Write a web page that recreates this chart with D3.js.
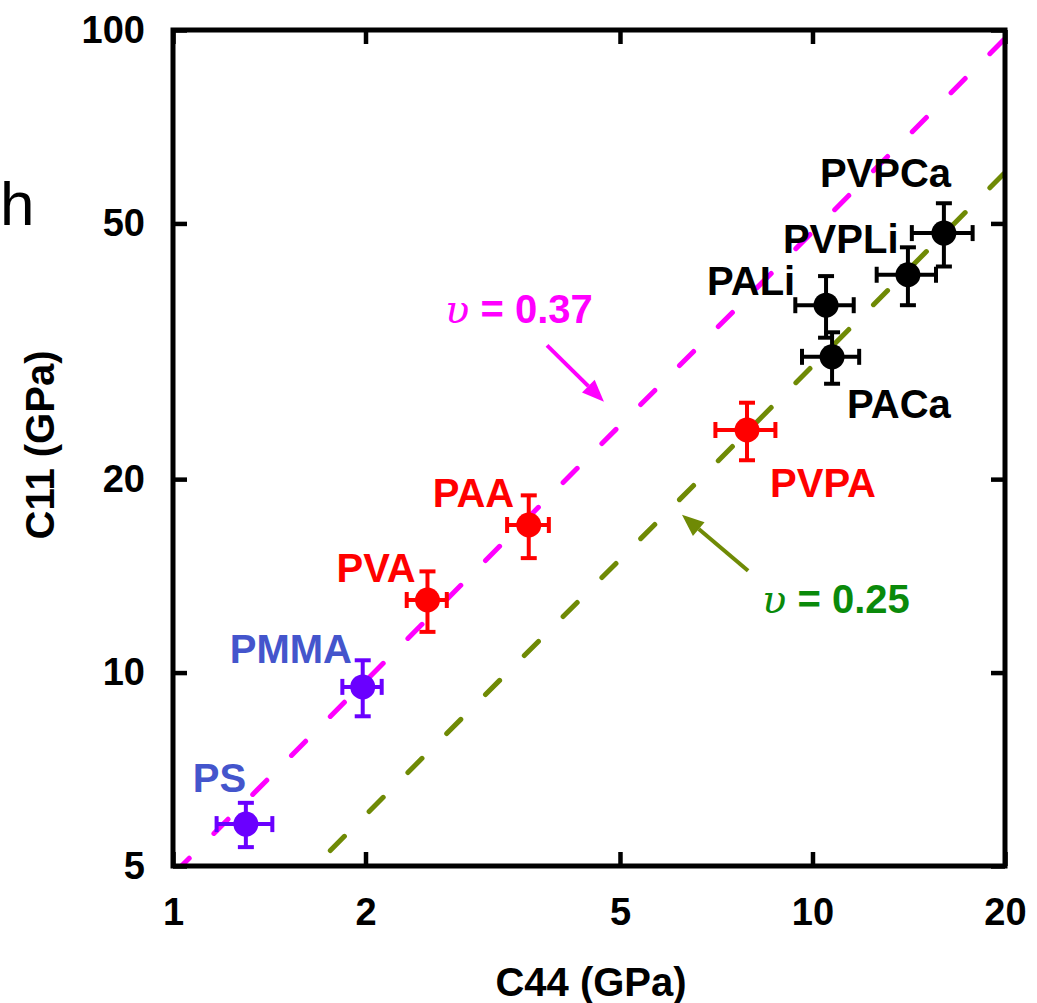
<!DOCTYPE html>
<html>
<head>
<meta charset="utf-8">
<script src="https://cdn.jsdelivr.net/npm/d3@7"></script>
<style>
  body { margin: 0; background: #fff; }
  text { font-family: "Liberation Sans", Arial, sans-serif; }
</style>
</head>
<body>
<div id="container"></div>
<script>
// values
const materials = ["PS", "PMMA", "PVA", "PAA", "PVPA", "PALi", "PACa", "PVPLi", "PVPCa"]
const c44 = [1.30, 1.98, 2.50, 3.60, 7.90, 10.50, 10.73, 14.1, 16.05]
const c44Err = [0.13, 0.14, 0.18, 0.27, 0.85, 1.1, 1.1, 1.5, 1.75]
const c11 = [5.81, 9.50, 12.97, 16.97, 23.85, 37.3, 31.0, 41.6, 48.3]
const c11Err = [0.46, 0.95, 1.4, 1.9, 2.45, 4.1, 2.85, 4.3, 5.45]
const groups = ["blue", "blue", "red", "red", "red", "black", "black", "black", "black"]

const xTicks = [1, 2, 5, 10, 20]
const yTicks = [5, 10, 20, 50, 100]

// C11/C44 ratio of the two reference lines
const nuLabels = ["0.37", "0.25"]
const nuRatios = [4.85, 3.0]

// annotation anchors in data units
const nuTextPos = [[2.663, 35.0], [8.34, 12.4]]
const arrowFrom = [[3.845, 32.3], [7.93, 14.4]]
const arrowTo = [[4.72, 26.4], [6.25, 17.6]]

// styling
const markerColor = { blue: "#6a00ff", red: "#ff0000", black: "#000000" }
const labelColor = { blue: "#4455cc", red: "#ff0000", black: "#000000" }
const lineColors = ["#ff00ff", "#6f8a05"]
const nuTextColors = ["#ff00ff", "#0a8a0a"]
const labelOffsets = {
    PS: [-53, -32], PMMA: [-133, -24], PVA: [-91, -18], PAA: [-96, -18],
    PVPA: [23, 67], PALi: [-119, -10], PACa: [15, 61], PVPLi: [-125, -22], PVPCa: [-124, -46]
}

const W = 1037, H = 1003
const margin = { top: 30, right: 32, bottom: 137, left: 173 }
const plotL = margin.left, plotR = W - margin.right
const plotT = margin.top, plotB = H - margin.bottom

const svg = d3.select("#container").append("svg").attr("width", W).attr("height", H)

const x = d3.scaleLog().domain([1, 20]).range([plotL, plotR])
const y = d3.scaleLog().domain([5, 100]).range([plotB, plotT])

svg.append("defs").append("clipPath").attr("id", "plot")
    .append("rect").attr("x", plotL).attr("y", plotT)
    .attr("width", plotR - plotL).attr("height", plotB - plotT)

// dashed reference lines
const line = d3.line().x(d => x(d[0])).y(d => y(d[1]))
nuRatios.forEach((r, i) => {
    svg.append("path")
        .attr("d", line([[1, r], [20, 20 * r]]))
        .attr("clip-path", "url(#plot)")
        .attr("fill", "none")
        .attr("stroke", lineColors[i])
        .attr("stroke-width", 5)
        .attr("stroke-linecap", "round")
        .attr("stroke-dasharray", "20,35")
        .attr("stroke-dashoffset", -3)
})

// arrows
const arrowHead = (g, x1, y1, x2, y2, color) => {
    const a = Math.atan2(y2 - y1, x2 - x1)
    const len = 22, hw = 9
    const bx = x2 - len * Math.cos(a), by = y2 - len * Math.sin(a)
    g.append("line").attr("x1", x1).attr("y1", y1).attr("x2", bx).attr("y2", by)
        .attr("stroke", color).attr("stroke-width", 4)
    g.append("path")
        .attr("d", `M${x2},${y2}L${bx + hw * Math.sin(a)},${by - hw * Math.cos(a)}L${bx - hw * Math.sin(a)},${by + hw * Math.cos(a)}Z`)
        .attr("fill", color)
}
arrowFrom.forEach((f, i) => {
    arrowHead(svg, x(f[0]), y(f[1]), x(arrowTo[i][0]), y(arrowTo[i][1]), lineColors[i])
})

nuLabels.forEach((lab, i) => {
    const t = svg.append("text")
        .attr("x", x(nuTextPos[i][0])).attr("y", y(nuTextPos[i][1]))
        .attr("fill", nuTextColors[i]).attr("font-size", 40).attr("font-weight", "bold")
    t.append("tspan").attr("font-family", "DejaVu Serif").attr("font-style", "italic")
        .attr("font-weight", "normal").attr("font-size", 40).text("υ")
    t.append("tspan").text(" = " + lab)
})

// points with error bars
const pts = materials.map((m, i) => ({ m, x: c44[i], y: c11[i], ex: c44Err[i], ey: c11Err[i], g: groups[i] }))
const cap = 8
const pg = svg.selectAll(".pt").data(pts).enter().append("g").attr("class", "pt")
    .attr("stroke", d => markerColor[d.g]).attr("stroke-width", 4)
pg.append("line").attr("x1", d => x(d.x - d.ex)).attr("x2", d => x(d.x + d.ex))
    .attr("y1", d => y(d.y)).attr("y2", d => y(d.y))
pg.append("line").attr("x1", d => x(d.x)).attr("x2", d => x(d.x))
    .attr("y1", d => y(d.y - d.ey)).attr("y2", d => y(d.y + d.ey))
pg.append("line").attr("x1", d => x(d.x) - cap).attr("x2", d => x(d.x) + cap)
    .attr("y1", d => y(d.y - d.ey)).attr("y2", d => y(d.y - d.ey))
pg.append("line").attr("x1", d => x(d.x) - cap).attr("x2", d => x(d.x) + cap)
    .attr("y1", d => y(d.y + d.ey)).attr("y2", d => y(d.y + d.ey))
pg.append("line").attr("x1", d => x(d.x - d.ex)).attr("x2", d => x(d.x - d.ex))
    .attr("y1", d => y(d.y) - cap).attr("y2", d => y(d.y) + cap)
pg.append("line").attr("x1", d => x(d.x + d.ex)).attr("x2", d => x(d.x + d.ex))
    .attr("y1", d => y(d.y) - cap).attr("y2", d => y(d.y) + cap)
pg.append("circle").attr("cx", d => x(d.x)).attr("cy", d => y(d.y)).attr("r", 12.5)
    .attr("fill", d => markerColor[d.g]).attr("stroke", "none")

svg.selectAll(".lab").data(pts).enter().append("text").attr("class", "lab")
    .attr("x", d => x(d.x) + labelOffsets[d.m][0])
    .attr("y", d => y(d.y) + labelOffsets[d.m][1])
    .attr("fill", d => labelColor[d.g])
    .attr("font-size", 40).attr("font-weight", "bold")
    .text(d => d.m)

// axes, ticks pointing inward
const fmt = d3.format("d")
const styleAxis = g => {
    g.select(".domain").remove()
    g.selectAll(".tick line").attr("stroke", "#000").attr("stroke-width", 4.5)
    g.selectAll("text").attr("font-size", 38).attr("font-weight", "bold").attr("fill", "#000")
        .attr("font-family", "Liberation Sans, Arial, sans-serif")
}
svg.append("g").attr("transform", `translate(0,${plotB})`)
    .call(d3.axisBottom(x).tickValues(xTicks).tickFormat(fmt).tickSizeInner(-14).tickSizeOuter(0).tickPadding(32))
    .call(styleAxis)
svg.append("g").attr("transform", `translate(0,${plotT})`)
    .call(d3.axisTop(x).tickValues(xTicks).tickFormat("").tickSizeInner(-14).tickSizeOuter(0))
    .call(styleAxis)
svg.append("g").attr("transform", `translate(${plotL},0)`)
    .call(d3.axisLeft(y).tickValues(yTicks).tickFormat(fmt).tickSizeInner(-14).tickSizeOuter(0).tickPadding(28))
    .call(styleAxis)
svg.append("g").attr("transform", `translate(${plotR},0)`)
    .call(d3.axisRight(y).tickValues(yTicks).tickFormat("").tickSizeInner(-14).tickSizeOuter(0))
    .call(styleAxis)

svg.append("rect").attr("x", plotL).attr("y", plotT)
    .attr("width", plotR - plotL).attr("height", plotB - plotT)
    .attr("fill", "none").attr("stroke", "#000").attr("stroke-width", 5)

// axis titles
svg.append("text").attr("x", (plotL + plotR) / 2 + 2).attr("y", 996)
    .attr("text-anchor", "middle").attr("font-size", 40).attr("font-weight", "bold")
    .text("C44 (GPa)")
svg.append("text").attr("transform", `translate(54,445) rotate(-90)`)
    .attr("text-anchor", "middle").attr("font-size", 40).attr("font-weight", "bold")
    .text("C11 (GPa)")

svg.append("text").attr("x", 0).attr("y", 225).attr("font-size", 62).text("h")
</script>
</body>
</html>
